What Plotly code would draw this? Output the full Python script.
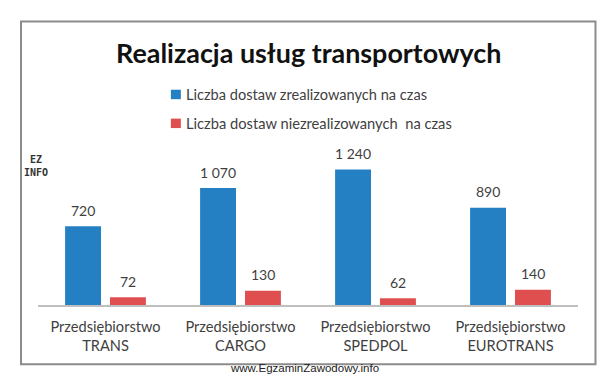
import plotly.graph_objects as go

companies = ["Przedsiębiorstwo<br>TRANS", "Przedsiębiorstwo<br>CARGO", "Przedsiębiorstwo<br>SPEDPOL", "Przedsiębiorstwo<br>EUROTRANS"]
on_time = [720, 1070, 1240, 890]
late = [72, 130, 62, 140]
on_time_labels = ["720", "1 070", "1 240", "890"]
late_labels = ["72", "130", "62", "140"]
name_on_time = "Liczba dostaw zrealizowanych na czas"
name_late = "Liczba dostaw niezrealizowanych  na czas"
title_text = "Realizacja usług transportowych"
watermark = "www.EgzaminZawodowy.info"

# The page has an 8 px body margin, so the figure starts at (8, 8) in the window
OFF = 8
W, H = 609 - OFF, 377 - OFF
L, R, T, B = 37.5 - OFF, 578 - OFF, 152 - OFF, 305.5 - OFF
BLUE, RED = "#2480C3", "#E04F4F"
TXT = "#3F3F3F"
FONT = "Lato"


def px(x):
    return (x - OFF - L) / (R - L)


def py(y):
    return (B - (y - OFF)) / (B - T)


fig = go.Figure()
fig.add_bar(x=companies, y=on_time, name=name_on_time, marker_color=BLUE, marker_line_width=0, cliponaxis=False)
fig.add_bar(x=companies, y=late, name=name_late, marker_color=RED, marker_line_width=0, cliponaxis=False)

shapes = [
    dict(type="rect", xref="paper", yref="paper", x0=px(20.5), x1=px(595.5), y0=py(21), y1=py(365),
         line=dict(color="#8C8C8C", width=2), fillcolor="rgba(0,0,0,0)", layer="below"),
    dict(type="rect", xref="paper", yref="paper", x0=px(170.5), x1=px(180.5), y0=py(89.5), y1=py(99),
         line_width=0, fillcolor=BLUE),
    dict(type="rect", xref="paper", yref="paper", x0=px(170.5), x1=px(180.5), y0=py(118.5), y1=py(128),
         line_width=0, fillcolor=RED),
]


def note(x, y, text, size, color=TXT, family=FONT, xanchor="left"):
    return dict(x=px(x), y=py(y), xref="paper", yref="paper", text=text, showarrow=False,
                xanchor=xanchor, yanchor="middle", font=dict(family=family, size=size, color=color))


annotations = [
    note(308, 52, f"<b>{title_text}</b>", 26.9, "#111111", xanchor="center"),
    note(184, 94, name_on_time, 14.6),
    note(184, 123, name_late, 14.7),
    note(304, 369, watermark, 11.5, "#222222", "Liberation Sans", "center"),
    note(35, 166, "<b>EZ<br>INFO</b>", 10, "#333333", "DejaVu Sans Mono", "center"),
]

for values, labels, shift in ((on_time, on_time_labels, -22.5), (late, late_labels, 22.5)):
    for company, value, label in zip(companies, values, labels):
        annotations.append(dict(x=company, y=value, xref="x", yref="y", text=label, showarrow=False,
                                xshift=shift, yshift=16, yanchor="middle", xanchor="center",
                                font=dict(family=FONT, size=14, color=TXT)))

fig.update_layout(
    width=W, height=H,
    margin=dict(l=L, r=W - R, t=T, b=H - B, pad=0),
    paper_bgcolor="white", plot_bgcolor="white",
    barmode="group", bargap=0.335, bargroupgap=0.2,
    showlegend=False,
    shapes=shapes, annotations=annotations,
    font=dict(family=FONT, color=TXT),
)
fig.update_xaxes(showline=True, linecolor="#BFBFBF", linewidth=2, ticks="", showgrid=False,
                 tickfont=dict(family=FONT, size=14.6, color=TXT), tickangle=0, ticklabelstandoff=7)
fig.update_yaxes(range=[0, 1400], visible=False, showgrid=False, zeroline=False)

fig.write_html("out.html", config={"displayModeBar": False})
